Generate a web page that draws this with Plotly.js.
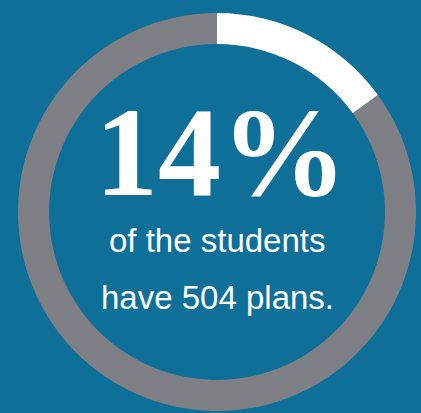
<!DOCTYPE html>
<html>
<head>
<meta charset="utf-8">
<script src="https://cdn.plot.ly/plotly-3.0.1.min.js"></script>
<style>html,body{margin:0;padding:0;background:#0e6f99;}</style>
</head>
<body>
<div id="chart" style="width:421px;height:413px;"></div>
<script>
const labels = ["Have 504 plans", "Do not have 504 plans"];
const values = [15, 85];
const headline = "14%";
const line1 = "of the students";
const line2 = "have 504 plans.";

const bg = "#0e6f99";
const data = [{
  type: "pie",
  labels: labels,
  values: values,
  hole: 0.844,
  sort: false,
  direction: "clockwise",
  rotation: 0,
  textinfo: "none",
  hoverinfo: "label+percent",
  marker: {colors: ["#ffffff", "#7f8085"], line: {width: 0}},
  showlegend: false
}];

function py(p){ return (411 - p) / 398; }
function px(p){ return (p - 18) / 398; }

const layout = {
  width: 421, height: 413,
  margin: {l: 18, r: 5, t: 13, b: 2},
  paper_bgcolor: bg, plot_bgcolor: bg,
  showlegend: false,
  annotations: [
    {text: "<b>" + headline + "</b>", x: px(221), y: py(152), xref: "paper", yref: "paper",
     xanchor: "center", yanchor: "middle", showarrow: false,
     font: {family: "Liberation Serif, serif", size: 126, color: "#ffffff"}},
    {text: line1, x: px(217), y: py(240), xref: "paper", yref: "paper",
     xanchor: "center", yanchor: "middle", showarrow: false,
     font: {family: "Liberation Sans, sans-serif", size: 33, color: "#ffffff"}},
    {text: line2, x: px(217), y: py(297), xref: "paper", yref: "paper",
     xanchor: "center", yanchor: "middle", showarrow: false,
     font: {family: "Liberation Sans, sans-serif", size: 33, color: "#ffffff"}}
  ]
};

Plotly.newPlot("chart", data, layout, {displayModeBar: false, staticPlot: true});
</script>
</body>
</html>
